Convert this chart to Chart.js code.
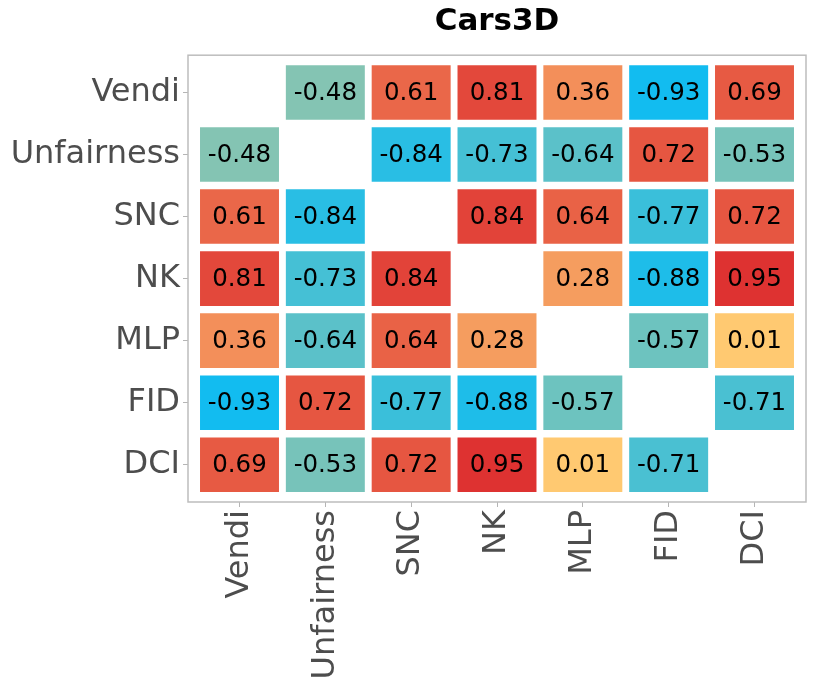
<!DOCTYPE html>
<html>
<head>
<meta charset="utf-8">
<script src="https://cdn.jsdelivr.net/npm/chart.js@4.4.1/dist/chart.umd.min.js"></script>
<style>
  body { margin: 0; background: #fff; }
</style>
</head>
<body>
<canvas id="heat" width="814" height="698"></canvas>
<script>
// metric names, top-to-bottom rows and left-to-right columns
const metrics = ['Vendi', 'Unfairness', 'SNC', 'NK', 'MLP', 'FID', 'DCI'];

// correlation rows (null = diagonal, left blank)
const vendi      = [null, -0.48, 0.61, 0.81, 0.36, -0.93, 0.69];
const unfairness = [-0.48, null, -0.84, -0.73, -0.64, 0.72, -0.53];
const snc        = [0.61, -0.84, null, 0.84, 0.64, -0.77, 0.72];
const nk         = [0.81, -0.73, 0.84, null, 0.28, -0.88, 0.95];
const mlp        = [0.36, -0.64, 0.64, 0.28, null, -0.57, 0.01];
const fid        = [-0.93, 0.72, -0.77, -0.88, -0.57, null, -0.71];
const dci        = [0.69, -0.53, 0.72, 0.95, 0.01, -0.71, null];

const rows = [vendi, unfairness, snc, nk, mlp, fid, dci];

const FONT = '"DejaVu Sans", Verdana, sans-serif';

// diverging colour scale: blue -> teal -> yellow -> orange -> red
const stops = [
  [-1.0, [0, 187, 249]],
  [-0.5, [127, 196, 182]],
  [0.0, [255, 203, 114]],
  [0.5, [238, 120, 80]],
  [1.0, [220, 42, 46]]
];
function corrColor(v) {
  for (let i = 0; i < stops.length - 1; i++) {
    const [a, ca] = stops[i], [b, cb] = stops[i + 1];
    if (v <= b || i === stops.length - 2) {
      const t = Math.max(0, Math.min(1, (v - a) / (b - a)));
      const c = ca.map((x, k) => Math.round(x + (cb[k] - x) * t));
      return `rgb(${c[0]},${c[1]},${c[2]})`;
    }
  }
}

const datasets = rows.map((row, r) => ({
  label: metrics[r],
  data: row
    .map((v, c) => (v === null ? null : { x: c, y: [r - 0.44, r + 0.44], v: v }))
    .filter(d => d !== null),
  backgroundColor: ctx => corrColor(ctx.raw ? ctx.raw.v : 0),
  borderWidth: 0,
  grouped: false,
  barPercentage: 0.92,
  categoryPercentage: 1
}));

const cellText = {
  id: 'cellText',
  afterDatasetsDraw(chart) {
    const ctx = chart.ctx;
    ctx.save();
    ctx.font = '24.5px ' + FONT;
    ctx.fillStyle = '#000';
    ctx.textAlign = 'center';
    ctx.textBaseline = 'middle';
    chart.data.datasets.forEach((ds, i) => {
      chart.getDatasetMeta(i).data.forEach((bar, j) => {
        const p = bar.getCenterPoint();
        ctx.fillText(ds.data[j].v.toFixed(2), p.x, p.y + 1);
      });
    });
    ctx.restore();
  }
};

const frame = {
  id: 'frame',
  afterDraw(chart) {
    const a = chart.chartArea;
    const ctx = chart.ctx;
    ctx.save();
    ctx.strokeStyle = '#bdbdbd';
    ctx.lineWidth = 1.5;
    ctx.strokeRect(a.left, a.top, a.right - a.left, a.bottom - a.top);
    ctx.restore();
  }
};

function metricTicks(scale) {
  scale.ticks = metrics.map((m, i) => ({ value: i }));
}

new Chart(document.getElementById('heat'), {
  type: 'bar',
  data: { datasets: datasets },
  options: {
    responsive: false,
    animation: false,
    layout: { padding: { left: 0, right: 8, top: 0, bottom: 0 } },
    plugins: {
      legend: { display: false },
      tooltip: { enabled: false },
      title: {
        display: true,
        text: 'Cars3D',
        fullSize: false,
        color: '#000',
        font: { family: FONT, size: 31, weight: 'bold' },
        padding: { top: 3, bottom: 15 }
      }
    },
    scales: {
      x: {
        type: 'linear',
        offset: false,
        min: -0.6,
        max: 6.6,
        afterBuildTicks: metricTicks,
        afterFit: s => { s.height = 196; },
        grid: { offset: false, drawOnChartArea: false, drawTicks: true, tickLength: 5, color: '#b5b5b5' },
        border: { display: false },
        ticks: {
          autoSkip: false,
          maxRotation: 90,
          minRotation: 90,
          padding: 3,
          color: '#4d4d4d',
          font: { family: FONT, size: 32 },
          callback: v => metrics[v]
        }
      },
      y: {
        type: 'linear',
        reverse: true,
        min: -0.6,
        max: 6.6,
        afterBuildTicks: metricTicks,
        afterFit: s => { s.width = 188; },
        grid: { drawOnChartArea: false, drawTicks: true, tickLength: 5, color: '#b5b5b5' },
        border: { display: false },
        ticks: {
          autoSkip: false,
          padding: 3,
          color: '#4d4d4d',
          font: { family: FONT, size: 32 },
          callback: v => metrics[v]
        }
      }
    }
  },
  plugins: [cellText, frame]
});
</script>
</body>
</html>
